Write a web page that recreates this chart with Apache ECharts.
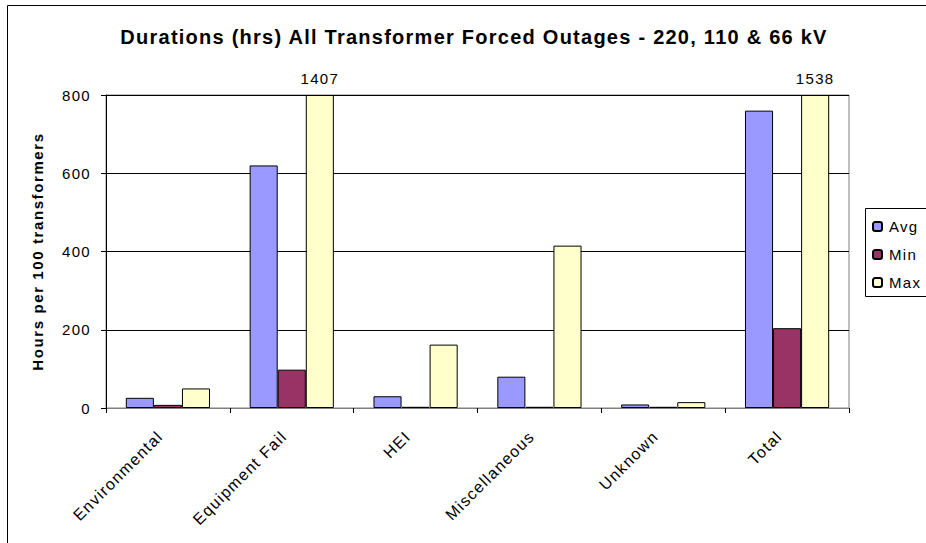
<!DOCTYPE html>
<html><head><meta charset="utf-8">
<script src="https://cdn.jsdelivr.net/npm/echarts@6/dist/echarts.min.js"></script>
<style>
html,body{margin:0;padding:0;background:#fff}
#c{width:926px;height:543px}
#c svg text{letter-spacing:1.3px}
#c svg text[style*="20px"]{letter-spacing:1.25px}
#c svg text[style*="bold"][style*="15px"]{letter-spacing:1.6px}
</style>
</head><body><div id="c"></div>
<script>
var categories = ['Environmental', 'Equipment Fail', 'HEI', 'Miscellaneous', 'Unknown', 'Total'];
var avgValues = [26, 620, 30, 80, 9, 760];
var minValues = [8, 98, 3, 3, 3, 204];
var maxValues = [50, 1407, 162, 415, 15, 1538];
var yTicks = [0, 200, 400, 600, 800];
var yMax = 800;

var font = 'Liberation Sans, Arial, sans-serif';
function clipData(arr) {
  return arr.map(function (v) {
    return {
      value: Math.min(v, yMax),
      label: { show: v > yMax, formatter: String(v) }
    };
  });
}
var chart = echarts.init(document.getElementById('c'), null, { renderer: 'svg' });
chart.setOption({
  animation: false,
  backgroundColor: '#fff',
  textStyle: { fontFamily: font },
  title: {
    text: 'Durations (hrs) All Transformer Forced Outages - 220, 110 & 66 kV',
    left: 469, top: 22, textAlign: 'center',
    textStyle: { fontFamily: font, fontSize: 20, fontWeight: 'bold', color: '#000' }
  },
  legend: {
    orient: 'vertical', left: 867, top: 214,
    itemWidth: 9, itemHeight: 9, itemGap: 13,
    textStyle: { fontFamily: font, fontSize: 15, color: '#000', padding: [0, 0, 0, 2] },
    data: ['Avg', 'Min', 'Max']
  },
  graphic: [
    { type: 'rect', shape: { x: 7.5, y: 5.5, width: 1000, height: 1000 }, style: { fill: 'none', stroke: '#000', lineWidth: 1 }, silent: true },
    { type: 'rect', shape: { x: 865.5, y: 208.5, width: 100, height: 88 }, style: { fill: 'none', stroke: '#000', lineWidth: 1 }, silent: true }
  ],
  grid: { left: 106, right: 77, top: 95, bottom: 135, show: true, borderColor: '#808080', borderWidth: 1, backgroundColor: 'transparent' },
  xAxis: {
    type: 'category', data: categories,
    axisLine: { lineStyle: { color: '#808080' } },
    axisTick: { show: true, length: 5, lineStyle: { color: '#000' } },
    axisLabel: { rotate: 45, margin: 18, padding: [0, 11, 0, 0], fontSize: 16, color: '#000', fontFamily: font, interval: 0 }
  },
  yAxis: {
    type: 'value', min: 0, max: yMax, interval: 200,
    name: 'Hours per 100 transformers', nameLocation: 'middle', nameGap: 61, nameRotate: 90,
    nameTextStyle: { fontFamily: font, fontSize: 15, fontWeight: 'bold', color: '#000' },
    axisLine: { show: true, lineStyle: { color: '#000' } },
    axisTick: { show: true, length: 5, lineStyle: { color: '#000' } },
    axisLabel: { margin: 15, fontSize: 15, color: '#000', fontFamily: font,
      formatter: function (v) { return yTicks.indexOf(v) >= 0 ? String(v) : ''; } },
    splitLine: { show: true, lineStyle: { color: '#000', width: 1 } }
  },
  series: [
    { name: 'Avg', type: 'bar', data: avgValues, barGap: '0%', barCategoryGap: '32%',
      itemStyle: { color: '#9999FF', borderColor: '#000', borderWidth: 1 } },
    { name: 'Min', type: 'bar', data: minValues,
      itemStyle: { color: '#993366', borderColor: '#000', borderWidth: 1 } },
    { name: 'Max', type: 'bar', data: clipData(maxValues),
      itemStyle: { color: '#FFFFCC', borderColor: '#000', borderWidth: 1 },
      label: { position: 'top', distance: 9, fontSize: 15, color: '#000', fontFamily: font } }
  ]
});
</script></body></html>
